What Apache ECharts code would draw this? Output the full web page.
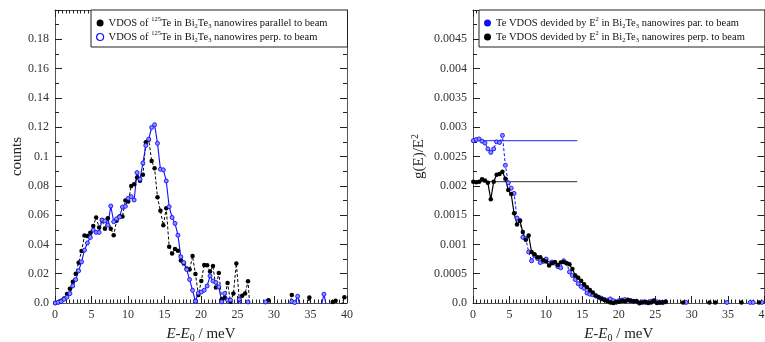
<!DOCTYPE html>
<html>
<head>
<meta charset="utf-8">
<script src="https://cdn.jsdelivr.net/npm/echarts@6/dist/echarts.min.js"></script>
<style>
  html, body { margin: 0; padding: 0; background: #fff; }
  #chart { width: 765px; height: 342px; }
</style>
</head>
<body>
<div id="chart"></div>
<script>
// energy grid (meV), shared by all four curves
const energy = [
  0.04, 0.44, 0.84, 1.24, 1.64, 2.04, 2.44, 2.84, 3.24, 3.64,
  4.04, 4.44, 4.84, 5.24, 5.64, 6.04, 6.44, 6.84, 7.24, 7.64,
  8.04, 8.44, 8.84, 9.24, 9.64, 10.04, 10.44, 10.84, 11.24, 11.64,
  12.04, 12.44, 12.84, 13.24, 13.64, 14.04, 14.44, 14.84, 15.24, 15.64,
  16.04, 16.44, 16.84, 17.24, 17.64, 18.04, 18.44, 18.84, 19.24, 19.64,
  20.04, 20.44, 20.84, 21.24, 21.64, 22.04, 22.44, 22.84, 23.24, 23.64,
  24.04, 24.44, 24.84, 25.24, 25.64, 26.04, 26.44, 26.84, 27.24, 27.64,
  28.04, 28.44, 28.84, 29.24, 29.64, 30.04, 30.44, 30.84, 31.24, 31.64,
  32.04, 32.44, 32.84, 33.24, 33.64, 34.04, 34.44, 34.84, 35.24, 35.64,
  36.04, 36.44, 36.84, 37.24, 37.64, 38.04, 38.44, 38.84, 39.24, 39.64
];

// left panel: VDOS counts
const countsParallel = [
  0, 0.0005, 0.0015, 0.003, 0.0062, 0.0098, 0.0145, 0.020, 0.0275, 0.0355,
  0.046, 0.0457, 0.048, 0.0525, 0.0584, 0.0516, 0.0566, 0.0507, 0.0578, 0.0507,
  0.0463, 0.0562, 0.059, 0.059, 0.0699, 0.0692, 0.0799, 0.081, 0.0856, 0.0835,
  0.0875, 0.1098, 0.1114, 0.097, 0.092, 0.0721, 0.063, 0.053, 0.0646, 0.0384,
  0.0338, 0.0368, 0.0356, 0.029, 0.0269, 0.0235, 0.0228, 0.032, 0.0198, 0.0055,
  0.015, 0.026, 0.0258, 0.0215, 0.0253, 0.0105, 0.0205, 0.0025, 0.0034, 0.0137,
  0.0008, 0.0064, 0.027, 0.0025, 0.005, 0.0064, 0.0148, -0.012, -0.008, -0.01,
  -0.006, -0.004, -0.003, 0.0018, -0.006, -0.01, -0.008, -0.005, -0.009, -0.006,
  -0.004, 0.0055, -0.006, -0.008, -0.005, -0.007, -0.004, 0.0038, -0.005, -0.006,
  -0.008, -0.005, -0.007, -0.006, -0.003, 0.0006, 0.0016, -0.002, -0.001, 0.004
];
const countsPerp = [
  0, 0.0005, 0.001, 0.0025, 0.004, 0.0064, 0.0117, 0.016, 0.022, 0.0281,
  0.0361, 0.041, 0.0447, 0.0498, 0.0482, 0.0482, 0.0566, 0.056, 0.0532, 0.0662,
  0.0555, 0.0575, 0.0587, 0.0655, 0.066, 0.0715, 0.0726, 0.0703, 0.089, 0.0845,
  0.0955, 0.1075, 0.1118, 0.1198, 0.1217, 0.109, 0.0913, 0.0909, 0.0833, 0.0657,
  0.0584, 0.0543, 0.0463, 0.0315, 0.0276, 0.0228, 0.016, 0.0087, 0.0012, 0.0068,
  0.0075, 0.0087, 0.0116, 0.0185, 0.015, 0.014, 0.011, 0.0008, 0.0065, 0.002,
  0.002, -0.003, -0.005, 0.0025, -0.004, -0.003, 0.0007, -0.005, -0.006, -0.004,
  -0.006, -0.004, 0.0007, -0.003, -0.005, -0.006, -0.004, -0.005, -0.006, -0.004,
  -0.003, 0.001, 0.0003, 0.0046, -0.004, -0.006, -0.005, -0.004, -0.006, -0.005,
  -0.004, -0.003, 0.006, -0.004, -0.006, -0.005, -0.004, -0.006, -0.005, -0.004
];

// right panel: g(E)/E^2
const gPar = [
  0.00277, 0.00279, 0.0028, 0.00276, 0.00273, 0.00263, 0.00257, 0.00263, 0.00275, 0.00274,
  0.00286, 0.00235, 0.00205, 0.00196, 0.00187, 0.00145, 0.00141, 0.00112, 0.0011, 0.00087,
  0.00072, 0.00081, 0.00076, 0.00069, 0.00071, 0.00075, 0.00068, 0.0007, 0.00068, 0.00062,
  0.0006, 0.00072, 0.00068, 0.00053, 0.00047, 0.0004, 0.00033, 0.00028, 0.00025, 0.00017,
  0.00015, 0.00014, 0.00012, 0.0001, 0.00008, 0.00006, 0.00005, 0.00007, 0.00004, 0.00001,
  0.00004, 0.00005, 0.00006, 0.00005, 0.00004, 0.00003, 0.00003, 0.0, 0.00002, 0.00001,
  0.00001, 0.00003, 0.00004, 0.00002, 0.00001, 0.00001, 0.00002, -0.0002, -0.0002, -0.0002,
  -0.0002, -0.0002, -0.0002, 0.00001, -0.0002, -0.0002, -0.0002, -0.0002, -0.0002, -0.0002,
  -0.0002, -0.0002, -0.0002, -0.0002, -0.0002, -0.0002, -0.0002, 0.00001, -0.0002, -0.0002,
  -0.0002, -0.0002, -0.0002, -0.0002, -0.0002, 0.00001, 0.00001, -0.0002, -0.0002, 0.00001
];
const gPerp = [
  0.00207, 0.00206, 0.00207, 0.00211, 0.00209, 0.00205, 0.00177, 0.00207, 0.00219, 0.0022,
  0.00224, 0.00212, 0.00193, 0.00186, 0.00153, 0.00134, 0.0014, 0.00121, 0.00108, 0.00115,
  0.00087, 0.00083, 0.00078, 0.00078, 0.00073, 0.00071, 0.00064, 0.00068, 0.0007, 0.00065,
  0.00069, 0.0007, 0.00068, 0.00066, 0.00058, 0.00047, 0.00043, 0.00038, 0.00032, 0.00027,
  0.00022, 0.00018, 0.00013, 0.0001, 0.00007, 0.00005, 0.00003, 0.00001, 0.0, 0.00002,
  0.00002, 0.00004, 0.00003, 0.00005, 0.00004, 0.00003, 0.00003, 0.0, 0.00001, 0.00002,
  0.0, 0.00001, 0.00004, 0.0, 0.00001, 0.00001, 0.00002, -0.0002, -0.0002, -0.0002,
  -0.0002, -0.0002, 0.00001, -0.0002, -0.0002, -0.0002, -0.0002, -0.0002, -0.0002, -0.0002,
  -0.0002, 0.00001, -0.0002, 0.00001, -0.0002, -0.0002, -0.0002, -0.0002, -0.0002, -0.0002,
  -0.0002, -0.0002, 0.00001, -0.0002, -0.0002, -0.0002, -0.0002, -0.0002, 0.00001, -0.0002
];

// low-energy plateau levels (Debye level) and where they end
const plateauPar = 0.00277;
const plateauPerp = 0.00207;
const plateauRange = [0, 14.3];

const serif = 'Liberation Serif';
const blue = '#1010ff';
const blueFill = '#8f8fff';

const pairs = (vals) => energy.map((e, k) => [e, vals[k]]);

const legendLabels = {
  parA: '{t|VDOS of }{sup|125}{t|Te in Bi}{sub|2}{t|Te}{sub|3}{t| nanowires parallel to beam}',
  perpA: '{t|VDOS of }{sup|125}{t|Te in Bi}{sub|2}{t|Te}{sub|3}{t| nanowires perp. to beam}',
  parB: '{t|Te VDOS devided by E}{sup|2}{t| in Bi}{sub|2}{t|Te}{sub|3}{t| nanowires par. to beam}',
  perpB: '{t|Te VDOS devided by E}{sup|2}{t| in Bi}{sub|2}{t|Te}{sub|3}{t| nanowires perp. to beam}'
};

const richText = {
  t: { fontFamily: serif, fontSize: 10.5, color: '#111', lineHeight: 14 },
  sup: { fontFamily: serif, fontSize: 6.5, color: '#111', lineHeight: 8, verticalAlign: 'top' },
  sub: { fontFamily: serif, fontSize: 6.5, color: '#111', lineHeight: 7, verticalAlign: 'bottom' }
};

const nameRich = {
  i: { fontFamily: serif, fontSize: 15, fontStyle: 'italic', color: '#222', lineHeight: 18 },
  r: { fontFamily: serif, fontSize: 15, color: '#222', lineHeight: 18 },
  sub: { fontFamily: serif, fontSize: 10, color: '#222', lineHeight: 10, verticalAlign: 'bottom' },
  sup: { fontFamily: serif, fontSize: 10, color: '#222', lineHeight: 10, verticalAlign: 'top' }
};

function makeXAxes(gridIndex) {
  const common = {
    type: 'value', gridIndex: gridIndex, min: 0, max: 40, interval: 5,
    axisLine: { show: true, onZero: false, lineStyle: { color: '#555', width: 1 } },
    axisTick: { show: true, inside: true, length: 7, lineStyle: { color: '#222' } },
    minorTick: { show: true, splitNumber: 10, length: 3.5, lineStyle: { color: '#222' } },
    splitLine: { show: false }
  };
  return [
    Object.assign({}, common, {
      position: 'bottom',
      axisLabel: { fontFamily: serif, fontSize: 12, color: '#333', margin: 6 },
      name: '{i|E}{r|-}{i|E}{sub|0}{r| / meV}',
      nameLocation: 'middle', nameGap: 22,
      nameTextStyle: { rich: nameRich }
    }),
    Object.assign({}, common, { position: 'top', axisLabel: { show: false } })
  ];
}

function makeYAxes(gridIndex, max, interval, name, nameGap) {
  const common = {
    type: 'value', gridIndex: gridIndex, min: 0, max: max, interval: interval,
    axisLine: { show: true, onZero: false, lineStyle: { color: '#555', width: 1 } },
    axisTick: { show: true, inside: true, length: 7, lineStyle: { color: '#222' } },
    minorTick: { show: true, splitNumber: 2, length: 4, lineStyle: { color: '#222' } },
    splitLine: { show: false }
  };
  return [
    Object.assign({}, common, {
      position: 'left',
      axisLabel: {
        fontFamily: serif, fontSize: 12, color: '#333', margin: 6,
        formatter: function (v) {
          if (v === 0) return '0.0';
          if (v >= max - 1e-12) return '';
          return String(+v.toPrecision(6));
        }
      },
      name: name, nameLocation: 'middle', nameGap: nameGap,
      nameTextStyle: { rich: nameRich }
    }),
    Object.assign({}, common, { position: 'right', axisLabel: { show: false } })
  ];
}

const myChart = echarts.init(document.getElementById('chart'));

const option = {
  animation: false,
  backgroundColor: '#fff',
  grid: [
    { left: 55, top: 10, width: 292, height: 293, outerBoundsMode: 'none', containLabel: false },
    { left: 473, top: 10, width: 291.5, height: 293, outerBoundsMode: 'none', containLabel: false }
  ],
  xAxis: makeXAxes(0).concat(makeXAxes(1)),
  yAxis: makeYAxes(0, 0.2, 0.02, '{r|counts}', 28)
    .concat(makeYAxes(1, 0.005, 0.0005, '{r|g(E)/E}{sup|2}', 45)),
  legend: [
    {
      data: [
        { name: 'parA', icon: 'circle', itemStyle: { color: '#000', borderWidth: 0 } },
        { name: 'perpA', icon: 'circle', itemStyle: { color: '#fff', borderColor: blue, borderWidth: 1.2 } }
      ],
      orient: 'vertical', left: 91, top: 10,
      itemWidth: 7, itemHeight: 7, itemGap: 0,
      backgroundColor: '#fff', borderColor: '#222', borderWidth: 1,
      padding: [6, 20, 3, 5],
      textStyle: { rich: richText },
      formatter: function (n) { return legendLabels[n]; }
    },
    {
      data: [
        { name: 'parB', icon: 'circle', itemStyle: { color: blue, borderWidth: 0 } },
        { name: 'perpB', icon: 'circle', itemStyle: { color: '#000', borderWidth: 0 } }
      ],
      orient: 'vertical', left: 479, top: 10,
      itemWidth: 7, itemHeight: 7, itemGap: 0,
      backgroundColor: '#fff', borderColor: '#222', borderWidth: 1,
      padding: [6, 20, 3, 5],
      textStyle: { rich: richText },
      formatter: function (n) { return legendLabels[n]; }
    }
  ],
  series: [
    {
      name: 'parA', type: 'line', xAxisIndex: 0, yAxisIndex: 0,
      data: pairs(countsParallel),
      symbol: 'circle', symbolSize: 4.5,
      itemStyle: { color: '#000' },
      lineStyle: { color: '#000', width: 1, type: [3, 2] }
    },
    {
      name: 'perpA', type: 'line', xAxisIndex: 0, yAxisIndex: 0,
      data: pairs(countsPerp),
      symbol: 'circle', symbolSize: 4,
      itemStyle: { color: blueFill, borderColor: blue, borderWidth: 0.9 },
      lineStyle: { color: blue, width: 1.1 }
    },
    {
      name: 'levelPar', type: 'line', xAxisIndex: 2, yAxisIndex: 2,
      data: [[plateauRange[0], plateauPar], [plateauRange[1], plateauPar]],
      symbol: 'none', silent: true,
      lineStyle: { color: '#4a4aff', width: 1.3 }
    },
    {
      name: 'levelPerp', type: 'line', xAxisIndex: 2, yAxisIndex: 2,
      data: [[plateauRange[0], plateauPerp], [plateauRange[1], plateauPerp]],
      symbol: 'none', silent: true,
      lineStyle: { color: '#555', width: 1.3 }
    },
    {
      name: 'parB', type: 'line', xAxisIndex: 2, yAxisIndex: 2,
      data: pairs(gPar),
      symbol: 'circle', symbolSize: 4,
      itemStyle: { color: blueFill, borderColor: blue, borderWidth: 0.9 },
      lineStyle: { color: blue, width: 1, type: [3, 2] }
    },
    {
      name: 'perpB', type: 'line', xAxisIndex: 2, yAxisIndex: 2,
      data: pairs(gPerp),
      symbol: 'circle', symbolSize: 4.5,
      itemStyle: { color: '#000' },
      lineStyle: { color: '#000', width: 1.2 }
    }
  ]
};

myChart.setOption(option);
</script>
</body>
</html>
